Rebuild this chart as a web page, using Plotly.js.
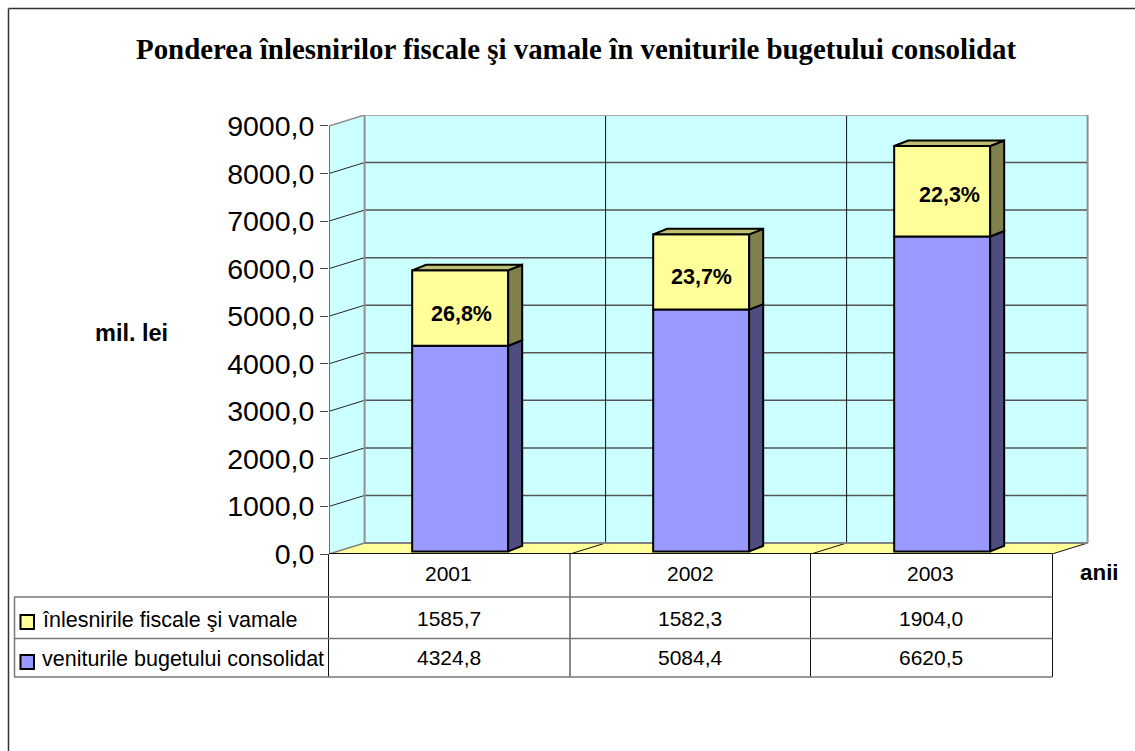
<!DOCTYPE html>
<html>
<head>
<meta charset="utf-8">
<script src="https://cdn.plot.ly/plotly-3.0.1.min.js"></script>
<style>html,body{margin:0;padding:0;background:#fff;overflow:hidden}#c{width:1135px;height:751px}</style>
</head>
<body>
<div id="c"></div>
<script>
const years = ['2001', '2002', '2003'];
const venituri = [4324.8, 5084.4, 6620.5];
const inlesniri = [1585.7, 1582.3, 1904.0];
const shares = ['26,8%', '23,7%', '22,3%'];
const yTicks = [0, 1000, 2000, 3000, 4000, 5000, 6000, 7000, 8000, 9000];
const seriesNames = ['înlesnirile fiscale şi vamale', 'veniturile bugetului consolidat'];
const titleText = 'Ponderea înlesnirilor fiscale şi vamale în veniturile bugetului consolidat';

const W = 1135, H = 751;
const L = 329, R = 1089, T = 115, B = 554;
const pxPerCat = 241, pxPer1000 = 47.56;
const xMax = (R - L) / pxPerCat, yMax = (B - T) / pxPer1000 * 1000;
const dX = 35.6 / pxPerCat, dY = 11 / pxPer1000 * 1000;
const bdX = 14 / pxPerCat, bdY = 5.5 / pxPer1000 * 1000;
const barW = 96 / pxPerCat;
const baseY = 0.3 * dY - 15, off = 0.3 * dX;
const cx = years.map((_, i) => i + 0.5 + off);
const px = x => (x - L) / (R - L);
const py = y => (B - y) / (B - T);

const shapes = [];
const dataLine = (x0, y0, x1, y1, color, width) => shapes.push({type: 'line', xref: 'x', yref: 'y', x0, y0, x1, y1, layer: 'below', line: {color, width}});
const paperLine = (x0, y0, x1, y1, color, width) => shapes.push({type: 'line', xref: 'paper', yref: 'paper', x0: px(x0), y0: py(y0), x1: px(x1), y1: py(y1), layer: 'below', line: {color, width}});
const nCat = years.length, topV = yTicks[yTicks.length - 1];
const poly = (pts, fill) => 'M' + pts.map(p => p.join(',')).join('L') + 'Z';
shapes.push({type: 'path', xref: 'x', yref: 'y', layer: 'below', line: {width: 0}, fillcolor: '#CCFFFF', path: poly([[0, 0], [dX, dY], [nCat + dX, dY], [nCat + dX, topV + dY], [dX, topV + dY], [0, topV]])});
shapes.push({type: 'path', xref: 'x', yref: 'y', layer: 'below', line: {width: 0}, fillcolor: '#FFFF99', path: poly([[0, 0], [dX, dY], [nCat + dX, dY], [nCat, 0]])});
yTicks.slice(1, -1).forEach(v => {
  dataLine(0, v, dX, v + dY, '#222', 1);
  dataLine(dX, v + dY, nCat + dX, v + dY, '#555', 1.5);
});
[1, 2].forEach(i => {
  dataLine(i + dX, dY, i + dX, topV + dY, '#111', 1);
  dataLine(i, 0, i + dX, dY, '#111', 1);
});
dataLine(nCat, 0, nCat + dX, dY, '#111', 1);
dataLine(0, 0, dX, dY, '#808080', 1.5);
dataLine(0, topV, dX, topV + dY, '#909090', 1.5);
dataLine(dX, dY, dX, topV + dY, '#909090', 2);
dataLine(dX, topV + dY, nCat + dX, topV + dY, '#A6A6A6', 2);
dataLine(nCat + dX, dY, nCat + dX, topV + dY, '#909090', 2);
dataLine(dX, dY, nCat + dX, dY, '#808080', 2);
dataLine(0, 0, 0, topV, '#707070', 2);
dataLine(0, 0, nCat, 0, '#111', 2);

// frame
paperLine(8.5, 8.5, W, 8.5, '#333', 1.5);
paperLine(8.5, 8.5, 8.5, H, '#333', 1.5);
// data table
const tableVX = [328.5, 570, 810.5, 1052.5];
tableVX.forEach(x => paperLine(x, 554, x, 677, '#111', 1));
paperLine(14, 597, 1052.5, 597, '#777', 1.5);
paperLine(14, 638.5, 1052.5, 638.5, '#777', 1.5);
paperLine(14, 677, 1052.5, 677, '#777', 1.5);
paperLine(14.5, 597, 14.5, 677, '#777', 1.5);
// legend keys
[[615, '#FFFF99'], [655, '#9999FF']].forEach(([y, c]) => shapes.push({type: 'rect', xref: 'paper', yref: 'paper', layer: 'below', x0: px(20.5), x1: px(34), y0: py(y), y1: py(y + 14), fillcolor: c, line: {color: '#000', width: 2}}));

const barTrace = (name, vals, bases, color) => ({
  type: 'bar', name, x: cx, y: vals, base: bases, width: barW,
  marker: {color, line: {color: '#000', width: 2}}, hoverinfo: 'skip', showlegend: false
});
const base1 = venituri.map(() => baseY);
const base2 = venituri.map(v => v + baseY);
const traces = [barTrace(seriesNames[1], venituri, base1, '#9999FF'), barTrace(seriesNames[0], inlesniri, base2, '#FFFF99')];
const face = (xs, ys, color) => traces.push({type: 'scatter', mode: 'lines', x: xs, y: ys, fill: 'toself', fillcolor: color, line: {color: '#000', width: 2}, hoverinfo: 'skip', showlegend: false});
cx.forEach((c, i) => {
  const r = c + barW / 2, l = c - barW / 2;
  const y0 = baseY, y1 = baseY + venituri[i], y2 = y1 + inlesniri[i];
  face([r, r + bdX, r + bdX, r, r], [y0, y0 + bdY, y1 + bdY, y1, y0], '#4D4D80');
  face([r, r + bdX, r + bdX, r, r], [y1, y1 + bdY, y2 + bdY, y2, y1], '#80804D');
  face([l, l + bdX, r + bdX, r, l], [y2, y2 + bdY, y2 + bdY, y2, y2], '#BFBF73');
});

const sans = 'Liberation Sans, Arial, sans-serif';
const serif = 'Liberation Serif, Times New Roman, serif';
const ann = [];
const txt = (text, x, y, size, opts = {}) => ann.push(Object.assign({text, xref: 'paper', yref: 'paper', x: px(x), y: py(y), xanchor: 'center', yanchor: 'middle', showarrow: false, font: {family: sans, size, color: '#000'}}, opts));
txt('<b>' + titleText + '</b>', 575.5, 49, 28.9, {font: {family: serif, size: 28.9, color: '#000'}});
txt('<b>mil. lei</b>', 131.5, 333, 23.5);
txt('<b>anii</b>', 1099, 572, 22.4);
const fmt = v => v.toFixed(1).replace('.', ',');
const labelX = [448, 690, 930];
const valX = [449, 690, 931];
years.forEach((y, i) => {
  txt(y, labelX[i], 573, 21);
  txt(fmt(inlesniri[i]), valX[i], 618, 21);
  txt(fmt(venituri[i]), valX[i], 657, 21);
});
txt(seriesNames[0], 40, 620, 21.5, {xanchor: 'left'});
txt(seriesNames[1], 40, 659, 21.5, {xanchor: 'left'});
const shareX = [461, 701, 949], shareY = [314, 277, 195];
shares.forEach((s, i) => txt('<b>' + s + '</b>', shareX[i], shareY[i], 21.5));

Plotly.newPlot('c', traces, {
  width: W, height: H, autosize: false,
  paper_bgcolor: '#fff', plot_bgcolor: 'rgba(0,0,0,0)',
  margin: {l: L, r: W - R, t: T, b: H - B, pad: 0},
  showlegend: false, barmode: 'overlay', separators: ', ',
  xaxis: {range: [0, xMax], fixedrange: true, showgrid: false, zeroline: false, showticklabels: false, ticks: '', showline: false},
  yaxis: {range: [0, yMax], fixedrange: true, showgrid: false, zeroline: false, showline: false, tickmode: 'array', tickvals: yTicks, tickformat: '.1f', ticks: 'outside', ticklen: 8, tickcolor: '#444', tickwidth: 1, tickfont: {family: sans, size: 28.5, color: '#000'}},
  shapes, annotations: ann
}, {displayModeBar: false, staticPlot: true});
</script>
</body>
</html>
